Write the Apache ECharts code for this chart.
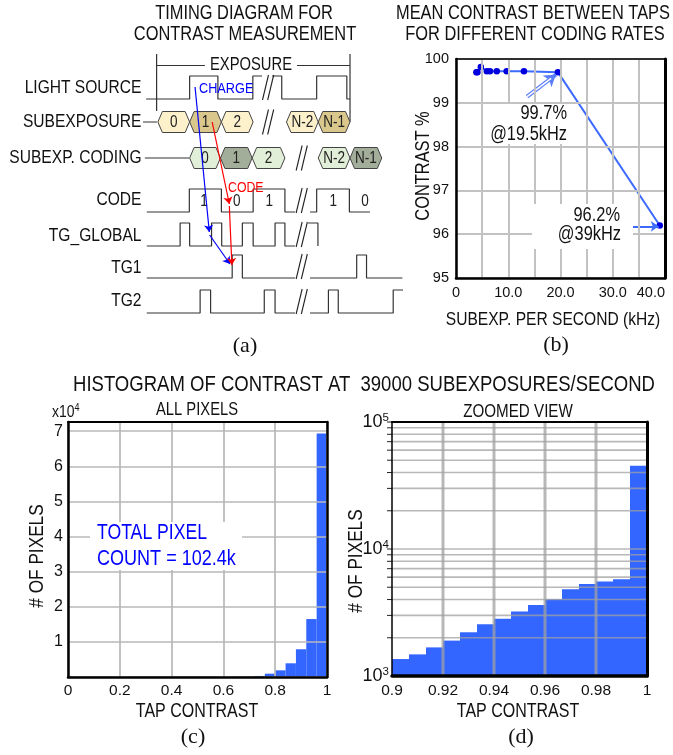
<!DOCTYPE html>
<html><head><meta charset="utf-8">
<script src="https://cdn.jsdelivr.net/npm/echarts@6/dist/echarts.min.js"></script>
<style>html,body{margin:0;padding:0;background:#fff}#c{width:673px;height:755px}</style>
</head><body><div id="c"></div>
<script>
// ================= DATA =================
// (a) timing diagram — time in sub-exposure slots, level 0/1
const rowLabels = ['LIGHT SOURCE','SUBEXPOSURE','SUBEXP. CODING','CODE','TG_GLOBAL','TG1','TG2'];
const lightSource = [[[-0.37,0],[1.0,1],[1.89,0],[2.99,1],[3.28,1]], [[3.6,1],[3.9,0],[5.0,1],[5.95,0],[6.05,0]]];
const codeSignal  = [[[-0.35,0],[0.99,1],[2.0,0],[3.0,1],[4.0,0],[4.32,0]], [[4.79,0],[5.0,1],[6.03,0],[6.68,0]]];
const tgGlobal    = [[[-0.35,0],[0.7,1],[1.0,0],[1.69,1],[2.01,0],[2.66,1],[3.0,0],[3.69,1],[4.0,0],[4.32,0]], [[4.73,1],[5.04,0]]];
const tg1Signal   = [[[-0.35,0],[2.34,1],[2.66,0],[4.32,0]], [[4.79,0],[6.26,1],[6.57,0],[7.7,0]]];
const tg2Signal   = [[[-0.35,0],[1.33,1],[1.66,0],[3.35,1],[3.69,0],[4.32,0]], [[4.79,0],[5.37,1],[5.68,0],[7.41,1],[7.72,1]]];
const subexpSlots = [[0,1,0],[1,2,1],[2,3,0],[4.05,5.05,0],[5.05,6.05,1]];
const subexpNames = ['0','1','2','N-2','N-1'];
const codingSlots = [[1,1.97,0],[1.97,2.97,1],[2.97,4.0,0],[5.05,6.05,0],[6.05,7.05,1]];
const codingNames = ['0','1','2','N-2','N-1'];
const codeBitTimes = [1.45,2.48,3.51,5.52,6.52];
const codeBitNames = ['1','0','1','1','0'];

// (b) mean contrast between taps
const rateKHz = [3.9, 4.1, 4.75, 5.9, 6.5, 7.8, 9.7, 13.0, 19.5, 39.0];
const meanContrast = [99.7, 99.7, 99.82, 99.72, 99.72, 99.72, 99.72, 99.72, 99.7, 96.2];

// (c) histogram, all pixels (bin start, count)
const binStartC = [0.72, 0.76, 0.80, 0.84, 0.88, 0.92, 0.96];
const countC = [300, 950, 1900, 3900, 7900, 16500, 69300];
const binWidthC = 0.04;

// (d) zoomed histogram
const binStartD = [0.9, 0.90667, 0.91333, 0.92, 0.92667, 0.93333, 0.94, 0.94667, 0.95333, 0.96, 0.96667, 0.97333, 0.98, 0.98667, 0.99333];
const countD = [1360, 1480, 1680, 1900, 2210, 2560, 2820, 3220, 3630, 4030, 4830, 5290, 5540, 5790, 45300];
const binWidthD = 0.006667;
const logGridD = [2000,3000,4000,5000,6000,7000,8000,9000,10000,20000,30000,40000,50000,60000,70000,80000,90000,100000];
const vGridD = [0.92, 0.94, 0.96, 0.98];

// ================= LAYOUT / STYLE =================
const SANS = '"Liberation Sans",Arial,sans-serif';
const SERIF = '"Liberation Serif","Times New Roman",serif';
const NARROW_X = 0.82;   // horizontal squeeze to imitate a narrow face
const rowBase = {light:99, subexp:122, coding:158, code:212, tgGlobal:246, tg1:278, tg2:313};
const AMP = 23;
const BLUE_BAR = '#3366ff';

const chart = echarts.init(document.getElementById('c'), null, {renderer:'canvas', width:673, height:755});

function hidden(grid, min, max, inverse) {
  return {gridIndex:grid, type:'value', min, max, inverse:!!inverse, show:false, splitLine:{show:false}};
}
function borderAxis(grid, pos, w) {
  return {gridIndex:grid, type:'value', position:pos, min:0, max:1,
    axisLine:{show:true, onZero:false, lineStyle:{color:'#000', width:w}},
    axisTick:{show:false}, axisLabel:{show:false}, splitLine:{show:false}, z:10};
}

const series = [];
// ---- (a) waveforms ----
function addSignal(segs, base) {
  segs.forEach(seg => series.push({
    type:'line', xAxisIndex:0, yAxisIndex:0, step:'end', symbol:'none', silent:true,
    data: seg.map(p => [p[0], base - p[1]*AMP]),
    lineStyle:{color:'#333', width:1.2}, z:3
  }));
}
addSignal(lightSource, rowBase.light);
addSignal(codeSignal, rowBase.code);
addSignal(tgGlobal, rowBase.tgGlobal);
addSignal(tg1Signal, rowBase.tg1);
addSignal(tg2Signal, rowBase.tg2);

// connectors & exposure bracket
const plainLines = [
  [[-0.47, rowBase.subexp],[-0.03, rowBase.subexp]],
  [[-0.41, rowBase.coding],[0.98, rowBase.coding]],
  [[-0.04, 54],[-0.04, 111]],
  [[-0.04, 65.5],[1.48, 65.5]],
  [[4.38, 65.5],[6.05, 65.5]],
  [[6.05, 54],[6.05, 122]]
];
plainLines.forEach(l => series.push({type:'line', xAxisIndex:0, yAxisIndex:0, symbol:'none', silent:true, data:l, lineStyle:{color:'#333', width:1.2}, z:3}));

function hexSeries(slots, names, base, fills) {
  return {
    type:'custom', xAxisIndex:0, yAxisIndex:0, silent:true, z:4,
    data: slots.map(s => [s[0], s[1], s[2]]),
    renderItem(params, api) {
      const a = api.coord([api.value(0), base]);
      const b = api.coord([api.value(1), base]);
      const h = 10.5, tip = 4.5, y = a[1];
      return {type:'group', children:[
        {type:'polygon', shape:{points:[[a[0],y],[a[0]+tip,y-h],[b[0]-tip,y-h],[b[0],y],[b[0]-tip,y+h],[a[0]+tip,y+h]]},
          style:{fill:fills[api.value(2)], stroke:'#444', lineWidth:1}},
        {type:'text', x:(a[0]+b[0])/2, y:y+0.5, scaleX:NARROW_X, style:{text:names[params.dataIndex], fontFamily:SANS, fontSize:16.5, fill:'#222', align:'center', verticalAlign:'middle'}}
      ]};
    }
  };
}
series.push(hexSeries(subexpSlots, subexpNames, rowBase.subexp, ['#fdf1cc','#d9c78c']));
series.push(hexSeries(codingSlots, codingNames, rowBase.coding, ['#e2efd8','#a3ae9a']));

series.push({
  type:'custom', xAxisIndex:0, yAxisIndex:0, silent:true, z:4,
  data: codeBitTimes.map(t => [t, rowBase.code - AMP/2]),
  renderItem(params, api) {
    const c = api.coord([api.value(0), api.value(1)]);
    return {type:'text', x:c[0], y:c[1]+1, scaleX:NARROW_X, style:{text:codeBitNames[params.dataIndex], fontFamily:SANS, fontSize:16.5, fill:'#222', align:'center', verticalAlign:'middle'}};
  }
});

const breakMarks = [[3.47, rowBase.light - AMP/2], [3.47, rowBase.subexp], [4.53, rowBase.coding],
  [4.53, rowBase.code - AMP/2], [4.53, rowBase.tgGlobal - AMP/2], [4.53, rowBase.tg1 - AMP/2], [4.53, rowBase.tg2 - AMP/2]];
series.push({
  type:'custom', xAxisIndex:0, yAxisIndex:0, silent:true, z:5,
  data: breakMarks,
  renderItem(params, api) {
    const c = api.coord([api.value(0), api.value(1)]);
    const hh = 12.5, s = 3;
    return {type:'group', children:[-2.6, 2.6].map(o => ({
      type:'line', shape:{x1:c[0]+o-s, y1:c[1]+hh, x2:c[0]+o+s, y2:c[1]-hh}, style:{stroke:'#222', lineWidth:1.1}
    }))};
  }
});

// arrows (a)
const chargeArrow = [[[1.17, 87],[1.62, 232]], [[1.63, 235],[2.27, 264]]];
const codeArrow = [[[1.71, 122],[2.25, 204]], [[2.25, 206],[2.33, 265]]];
series.push({type:'lines', coordinateSystem:'cartesian2d', xAxisIndex:0, yAxisIndex:0, silent:true, z:6,
  symbol:['none','arrow'], symbolSize:7, lineStyle:{color:'#0000ff', width:1.2, opacity:1},
  data: chargeArrow.map(c => ({coords:c}))});
series.push({type:'lines', coordinateSystem:'cartesian2d', xAxisIndex:0, yAxisIndex:0, silent:true, z:6,
  symbol:['none','arrow'], symbolSize:7, lineStyle:{color:'#ff0000', width:1.2, opacity:1},
  data: codeArrow.map(c => ({coords:c}))});

// ---- (b) ----
series.push({type:'line', xAxisIndex:1, yAxisIndex:1, data: rateKHz.map((r,i) => [r, meanContrast[i]]),
  symbol:'circle', symbolSize:6.5, itemStyle:{color:'#0000dd'}, lineStyle:{color:'#3d6bff', width:2}, z:5, silent:true});
const annotArrow1 = [[13.6, 99.14],[19.1, 99.64]];
const annotArrow2 = [[32.1, 96.18],[38.8, 96.18]];
series.push({type:'lines', coordinateSystem:'cartesian2d', xAxisIndex:1, yAxisIndex:1, silent:true, z:7,
  symbol:['none','arrow'], symbolSize:11, lineStyle:{color:'#5a7cff', width:4, opacity:1},
  data:[{coords:annotArrow1}]});
series.push({type:'lines', coordinateSystem:'cartesian2d', xAxisIndex:1, yAxisIndex:1, silent:true, z:8,
  symbol:['none','none'], lineStyle:{color:'#ffffff', width:1.6, opacity:1},
  data:[{coords:[annotArrow1[0],[18.2, 99.56]]}]});
series.push({type:'lines', coordinateSystem:'cartesian2d', xAxisIndex:1, yAxisIndex:1, silent:true, z:7,
  symbol:['none','arrow'], symbolSize:8, lineStyle:{color:'#3d6bff', width:2, opacity:1},
  data:[{coords:annotArrow2}]});

// ---- (c) ----
series.push({type:'custom', xAxisIndex:3, yAxisIndex:3, silent:true, z:3,
  data: binStartC.map((b,i) => [b, countC[i]]),
  renderItem(params, api) {
    const p0 = api.coord([api.value(0), 0]);
    const p1 = api.coord([api.value(0) + binWidthC, api.value(1)]);
    return {type:'rect', shape:{x:p0[0], y:p1[1], width:p1[0]-p0[0], height:p0[1]-p1[1]}, style:{fill:BLUE_BAR}};
  }});

// ---- (d) ----
series.push({type:'custom', xAxisIndex:5, yAxisIndex:5, silent:true, z:3,
  data: binStartD.map((b,i) => [b, countD[i]]),
  renderItem(params, api) {
    const p0 = api.coord([api.value(0), 1000]);
    const p1 = api.coord([api.value(0) + binWidthD, api.value(1)]);
    return {type:'rect', shape:{x:p0[0], y:p1[1], width:p1[0]-p0[0]+0.3, height:p0[1]-p1[1]}, style:{fill:BLUE_BAR}};
  }});
series.push({type:'custom', xAxisIndex:5, yAxisIndex:5, silent:true, z:4,
  data: logGridD.map(v => [0.9, v]),
  renderItem(params, api) {
    const a = api.coord([0.9, api.value(1)]);
    const b = api.coord([1.0, api.value(1)]);
    return {type:'group', children:[
      {type:'line', shape:{x1:a[0], y1:a[1], x2:b[0], y2:b[1]}, style:{stroke:'rgba(160,160,160,0.75)', lineWidth:1.6}},
      {type:'line', shape:{x1:a[0]-5, y1:a[1], x2:a[0], y2:a[1]}, style:{stroke:'#222', lineWidth:1}}
    ]};
  }});
series.push({type:'custom', xAxisIndex:5, yAxisIndex:5, silent:true, z:4,
  data: vGridD.map(v => [v, 1000]),
  renderItem(params, api) {
    const a = api.coord([api.value(0), 1000]);
    const b = api.coord([api.value(0), 100000]);
    return {type:'line', shape:{x1:a[0], y1:a[1], x2:b[0], y2:b[1]}, style:{stroke:'rgba(160,160,160,0.75)', lineWidth:3}};
  }});

// ================= GRAPHIC TEXT =================
function txt(text, x, y, size, opts) {
  opts = opts || {};
  const serif = opts.family === SERIF;
  return {type:'text', x, y, rotation: opts.rot || 0, scaleX: serif ? 1 : NARROW_X, z: 100, silent:true,
    style:{text, fontSize:size, fontFamily: opts.family || SANS, fill: opts.color || '#111',
      align: opts.align || 'center', verticalAlign:'middle', rich: opts.rich}};
}
function box(x, y, w, h) { return {type:'rect', z:50, silent:true, shape:{x, y, width:w, height:h}, style:{fill:'#fff'}}; }
const graphics = [
  // (a)
  txt('TIMING DIAGRAM FOR', 244, 13, 20),
  txt('CONTRAST MEASUREMENT', 245, 34, 20),
  box(206, 56, 90, 18),
  txt('EXPOSURE', 251, 65, 18),
  txt('CHARGE', 199, 89, 15.5, {align:'left', color:'#0000ff'}),
  txt('CODE', 228, 187.5, 15, {align:'left', color:'#ff0000'}),
  txt('(a)', 245, 346, 22, {family:SERIF}),
  // (b)
  txt('MEAN CONTRAST BETWEEN TAPS', 533, 13, 20),
  txt('FOR DIFFERENT CODING RATES', 535, 34, 20),
  txt('CONTRAST %', 423, 166, 20, {rot:Math.PI/2}),
  txt('SUBEXP. PER SECOND (kHz)', 553, 320, 19),
  txt('(b)', 556, 345, 22, {family:SERIF}),
  box(487, 104, 84, 40),
  txt('99.7%', 567, 113.5, 20, {align:'right'}),
  txt('@19.5kHz', 567, 134, 20, {align:'right'}),
  box(532, 204, 101, 45),
  txt('96.2%', 620, 215, 20, {align:'right'}),
  txt('@39kHz', 621, 234, 20, {align:'right'}),
  // (c)
  txt('HISTOGRAM OF CONTRAST AT  39000 SUBEXPOSURES/SECOND', 364, 385, 22.6),
  txt('ALL PIXELS', 197, 410, 18),
  txt('{a|x10}{b|4}', 52, 412, 17, {align:'left', rich:{a:{fontSize:17, fontFamily:SANS, fill:'#111'}, b:{fontSize:11, fontFamily:SANS, fill:'#111', verticalAlign:'top', padding:[0,0,8,0]}}}),
  box(90, 522, 152, 48),
  txt('TOTAL PIXEL', 97, 533, 21.5, {align:'left', color:'#0000ff'}),
  txt('COUNT = 102.4k', 97, 559, 22, {align:'left', color:'#0000ff'}),
  txt('# OF PIXELS', 37, 556, 21, {rot:Math.PI/2}),
  txt('TAP CONTRAST', 197, 712, 19.5),
  txt('(c)', 193, 737, 22, {family:SERIF}),
  // (d)
  txt('ZOOMED VIEW', 518, 411.5, 18.5),
  txt('# OF PIXELS', 356, 561, 21, {rot:Math.PI/2}),
  txt('TAP CONTRAST', 518, 712, 19.5),
  txt('(d)', 521, 737, 22, {family:SERIF})
];
rowLabels.forEach((t, i) => graphics.push(txt(t, 141.5, [87.5, 122, 158, 200, 236, 268, 301][i], 19, {align:'right'})));

// ================= OPTION =================
const gridCommon = {containLabel:false, outerBoundsMode:'none', show:false};
const tickFontC = {fontFamily:SANS, fontSize:15.5, color:'#111'};
const option = {
  animation:false,
  backgroundColor:'#fff',
  grid:[
    Object.assign({left:142, top:45, width:262, height:280}, gridCommon),
    Object.assign({left:456, top:59, width:209, height:219}, gridCommon),
    Object.assign({left:68, top:422, width:259, height:255}, gridCommon),
    Object.assign({left:392, top:422, width:255, height:254}, gridCommon)
  ],
  xAxis:[
    hidden(0, -0.5, 7.75),
    {gridIndex:1, type:'value', min:0, max:40, interval:5,
      axisLine:{onZero:false, lineStyle:{color:'#000', width:2.5}}, axisTick:{show:false},
      axisLabel:{fontFamily:SANS, fontSize:14.5, color:'#111', margin:7, showMaxLabel:true, alignMaxLabel:'right',
        formatter:v => (Math.round(v) % 10 === 0) ? (v === 0 ? '0' : v.toFixed(1)) : ''},
      splitLine:{show:true, lineStyle:{color:'#c2c2c2', width:2}}, z:10},
    borderAxis(1, 'top', 1.5),
    {gridIndex:2, type:'value', min:0, max:1, interval:0.2,
      axisLine:{onZero:false, lineStyle:{color:'#000', width:2.5}}, axisTick:{show:false},
      axisLabel:Object.assign({margin:6, showMaxLabel:true, formatter:v => (v < 1e-9 ? '0' : (Math.abs(v-1) < 1e-9 ? '1' : v.toFixed(1)))}, tickFontC),
      splitLine:{show:true, lineStyle:{color:'#b8b8b8', width:1.7}}, z:10},
    borderAxis(2, 'top', 2),
    {gridIndex:3, type:'value', min:0.9, max:1.0, interval:0.02,
      axisLine:{onZero:false, lineStyle:{color:'#000', width:3.5}}, axisTick:{show:false},
      axisLabel:Object.assign({margin:7, showMaxLabel:true, showMinLabel:true, formatter:v => (Math.abs(v-1) < 1e-9 ? '1' : (Math.abs(v-0.9) < 1e-9 ? '0.9' : v.toFixed(2)))}, tickFontC),
      splitLine:{show:false}, z:10},
    borderAxis(3, 'top', 2)
  ],
  yAxis:[
    hidden(0, 45, 325, true),
    {gridIndex:1, type:'value', min:95, max:100, interval:1,
      axisLine:{show:true, onZero:false, lineStyle:{color:'#000', width:2.5}}, axisTick:{show:false},
      axisLabel:{fontFamily:SANS, fontSize:14.5, color:'#111', margin:7},
      splitLine:{show:true, lineStyle:{color:'#c2c2c2', width:2}}, z:10},
    borderAxis(1, 'right', 3),
    {gridIndex:2, type:'value', min:0, max:72600, interval:10000,
      axisLine:{show:true, onZero:false, lineStyle:{color:'#000', width:2.5}}, axisTick:{show:false},
      axisLabel:Object.assign({margin:5, formatter:v => (v > 0 && v % 10000 === 0) ? String(v/10000) : ''}, tickFontC, {fontSize:16}),
      splitLine:{show:true, lineStyle:{color:'#b8b8b8', width:1.7}}, z:10},
    borderAxis(2, 'right', 2.5),
    {gridIndex:3, type:'log', logBase:10, min:1000, max:100000,
      axisLine:{show:true, onZero:false, lineStyle:{color:'#000', width:1.5}}, axisTick:{show:false},
      axisLabel:{margin:3, showMinLabel:true, showMaxLabel:true,
        formatter:v => '{a|10}{b|' + Math.round(Math.log10(v)) + '}',
        rich:{a:{fontFamily:SANS, fontSize:18, color:'#111'}, b:{fontFamily:SANS, fontSize:11.5, color:'#111', verticalAlign:'top', padding:[0,0,9,0]}}},
      splitLine:{show:false}, z:10},
    borderAxis(3, 'right', 3)
  ],
  series,
  graphic: graphics
};
chart.setOption(option);
</script></body></html>
